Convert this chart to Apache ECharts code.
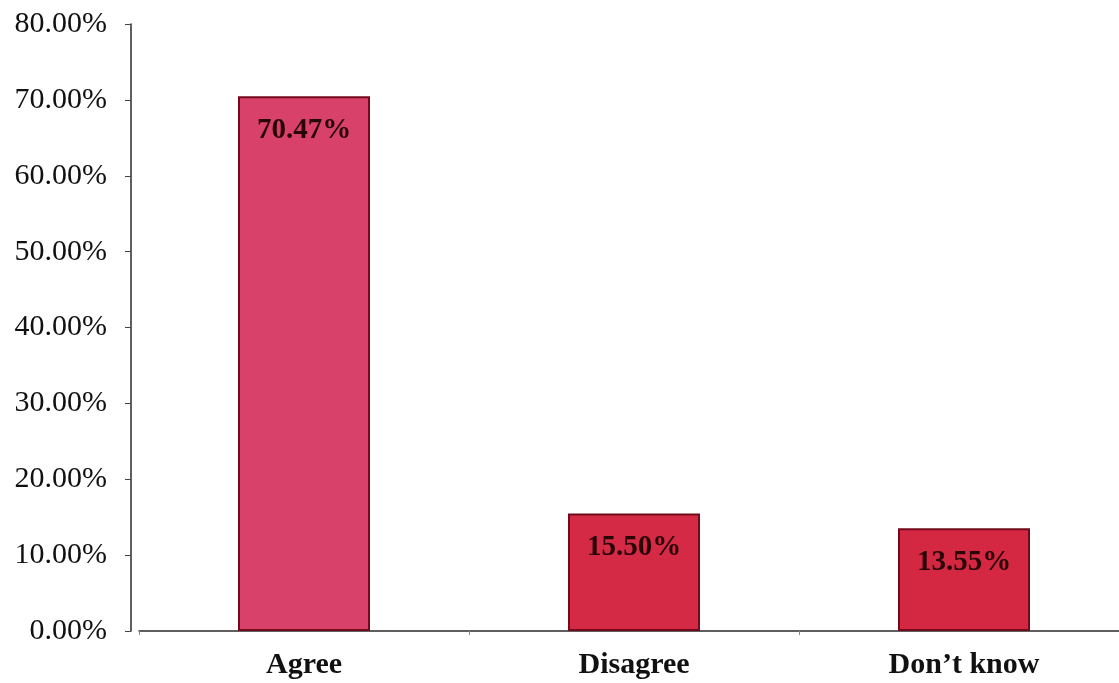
<!DOCTYPE html>
<html>
<head>
<meta charset="utf-8">
<script src="https://cdn.jsdelivr.net/npm/echarts@6/dist/echarts.min.js"></script>
<style>
  html, body { margin: 0; padding: 0; background: #ffffff; }
  #chart { width: 1119px; height: 683px; }
</style>
</head>
<body>
<div id="chart"></div>
<script>
// Survey responses, share of respondents (%)
const categories = ['Agree', 'Disagree', 'Don\u2019t know'];
const shares = [70.47, 15.50, 13.55];
const barColors = ['#d8426a', '#d52a46', '#d42842'];

const SERIF = '"Liberation Serif", "DejaVu Serif", serif';

const chart = echarts.init(document.getElementById('chart'), null, { renderer: 'canvas' });

chart.setOption({
  animation: false,
  backgroundColor: '#ffffff',
  grid: {
    left: 139, width: 990, top: 24, bottom: 52,
    containLabel: false,
    outerBoundsMode: 'none'
  },
  xAxis: {
    type: 'category',
    data: categories,
    boundaryGap: true,
    axisLine: { show: true, lineStyle: { color: '#2b2b2b', width: 1.5 } },
    axisTick: { show: true, length: 4, alignWithLabel: false, lineStyle: { color: '#888' } },
    axisLabel: {
      color: '#111',
      fontFamily: SERIF,
      fontWeight: 'bold',
      fontSize: 30,
      margin: 19
    },
    splitLine: { show: false }
  },
  yAxis: {
    type: 'value',
    min: 0,
    max: 80,
    interval: 10,
    offset: 8,
    axisLine: { show: true, lineStyle: { color: '#2b2b2b', width: 1.5 } },
    axisTick: { show: true, length: 6, inside: false, lineStyle: { color: '#444' } },
    axisLabel: {
      color: '#111',
      fontFamily: SERIF,
      fontSize: 30,
      margin: 24,
      formatter: v => v.toFixed(2) + '%'
    },
    splitLine: { show: false }
  },
  series: [{
    type: 'bar',
    barWidth: 132,
    data: shares.map((v, i) => ({
      value: v,
      itemStyle: { color: barColors[i] }
    })),
    itemStyle: {
      borderColor: '#730a1c',
      borderWidth: 2
    },
    label: {
      show: true,
      position: 'insideTop',
      distance: 20,
      color: '#2a0508',
      fontFamily: SERIF,
      fontWeight: 'bold',
      fontSize: 29,
      formatter: p => p.value.toFixed(2) + '%'
    }
  }]
});
</script>
</body>
</html>
